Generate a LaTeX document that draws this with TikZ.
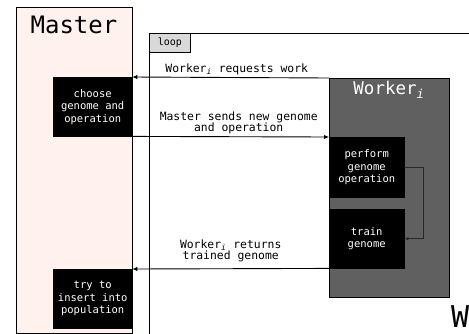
\documentclass[tikz,border=0pt]{standalone}
\usepackage{fontspec}
\setmonofont{DejaVu Sans Mono}
\usetikzlibrary{arrows.meta}
\definecolor{masterpink}{RGB}{255,242,238}
\definecolor{workergray}{RGB}{96,96,96}
\definecolor{tabgray}{RGB}{217,217,217}
\newcommand{\subi}{\textsubscript{\itshape i}}
\tikzset{
  boxtxt/.style={font=\ttfamily\fontsize{10.5}{12.5}\selectfont, align=center},
  msgtxt/.style={font=\ttfamily\fontsize{11.4}{11.5}\selectfont, align=center, inner sep=0pt},
  blackbox/.style={fill=black, draw=black, text=white, boxtxt, inner sep=0pt, anchor=north west},
  msg/.style={-{Latex[length=5pt,width=4.5pt]}, line width=0.9pt},
  selfmsg/.style={-{Latex[length=4pt,width=3.5pt]}, line width=0.8pt, draw=black!85},
}
\begin{document}
\begin{tikzpicture}[x=1pt,y=-1pt]
\clip (0,0) rectangle (469,333);
\fill[white] (0,0) rectangle (469,333);
% loop frame
\node[draw=black, line width=0.8pt, minimum width=340pt, minimum height=320pt, inner sep=0pt, anchor=north west] (loop) at (149,33) {};
\node[draw=black, fill=tabgray, line width=0.8pt, minimum width=41pt, minimum height=19pt, inner sep=0pt, anchor=north west, font=\ttfamily\fontsize{10}{12}\selectfont] (looptab) at (149,33) {loop};
% master lifeline
\node[draw=black, fill=masterpink, line width=1.2pt, minimum width=116pt, minimum height=326pt, inner sep=0pt, anchor=north west] (master) at (16,7) {};
\node[font=\ttfamily\fontsize{24}{28}\selectfont, anchor=center] (mastertitle) at (74,25) {Master};
% worker lifeline
\node[draw=black, fill=workergray, line width=1.2pt, minimum width=120pt, minimum height=219pt, inner sep=0pt, anchor=north west] (worker) at (329,78) {};
\node[font=\ttfamily\fontsize{17.5}{20}\selectfont, text=white, anchor=center] (workertitle) at (389,90) {Worker\subi};
% boxes
\node[blackbox, minimum width=79pt, minimum height=59pt] (choose) at (53,77) {choose\\genome and\\operation};
\node[blackbox, minimum width=75pt, minimum height=60pt] (perform) at (329,137) {perform\\genome\\operation};
\node[blackbox, minimum width=75pt, minimum height=59pt] (train) at (329,209) {train\\genome};
\node[blackbox, minimum width=79pt, minimum height=59pt] (try) at (53,269) {try to\\insert into\\population};
% messages
\draw[msg] (worker.north west) -- node[msgtxt, above=2pt, xshift=6pt] (m1) {Worker\subi{} requests work} (choose.north east);
\draw[msg] (choose.south east) -- node[msgtxt, above=2pt, xshift=8pt] (m2) {Master sends new genome\\and operation} (perform.north west);
\draw[selfmsg] (perform.east) -- ++(19,0) |- (train.east);
\draw[msg] (train.south west) -- node[msgtxt, above=6pt] (m3) {Worker\subi{} returns\\trained genome} (try.north east);
% next lifeline, cut off
\node[font=\ttfamily\fontsize{30}{34}\selectfont, anchor=base west, inner sep=0pt] (nextw) at (451,327) {W};
\end{tikzpicture}
\end{document}
